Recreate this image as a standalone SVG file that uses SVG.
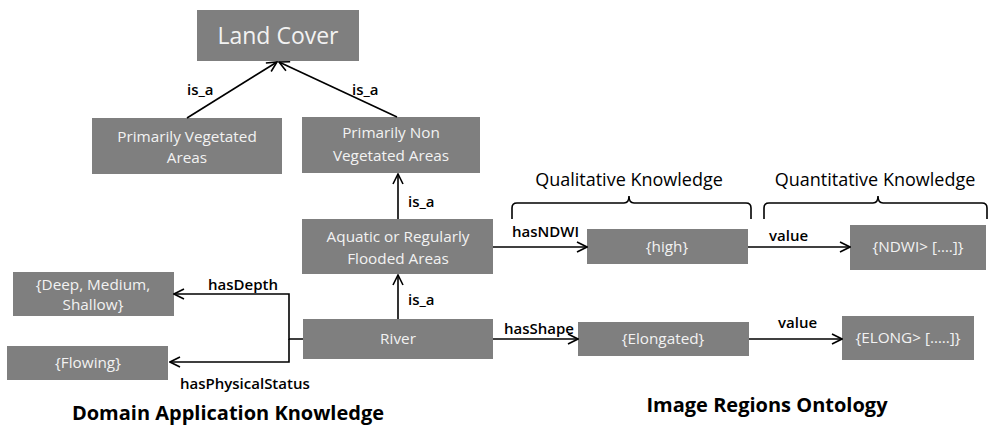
<svg xmlns="http://www.w3.org/2000/svg" width="989" height="426" viewBox="0 0 989 426">
<style>
.box{fill:#7f7f7f}
.bt{font-family:"Open Sans","Liberation Sans",sans-serif;font-size:15.3px;fill:#f2f2f2;text-anchor:middle}
.lb{font-family:"Open Sans","Liberation Sans",sans-serif;font-size:15px;font-weight:600;fill:#000}
.hd{font-family:"Open Sans","Liberation Sans",sans-serif;font-size:18px;fill:#000;text-anchor:middle}
.ti{font-family:"Open Sans","Liberation Sans",sans-serif;font-weight:bold;font-size:20px;fill:#000;text-anchor:middle}
.ln{fill:none;stroke:#000;stroke-width:1.6}
</style>
<defs>
<marker id="ah" viewBox="0 0 12 12" refX="11" refY="6" markerWidth="12" markerHeight="12" markerUnits="userSpaceOnUse" orient="auto">
<polyline points="1,1 11,6 1,11" fill="none" stroke="#000" stroke-width="1.6"/>
</marker>
</defs>
<g id="land-cover"><rect class="box" x="197" y="10" width="162" height="51"/><text class="bt" x="278" y="44" style="font-size:23px">Land Cover</text></g>
<g id="prim-veg"><rect class="box" x="92" y="118" width="190" height="56"/><text class="bt" x="187" y="142">Primarily Vegetated</text><text class="bt" x="187" y="163">Areas</text></g>
<g id="prim-nonveg"><rect class="box" x="302" y="117" width="178" height="56"/><text class="bt" x="391" y="138">Primarily Non</text><text class="bt" x="391" y="161">Vegetated Areas</text></g>
<g id="aquatic"><rect class="box" x="302" y="219" width="191" height="55"/><text class="bt" x="398" y="242">Aquatic or Regularly</text><text class="bt" x="398" y="264">Flooded Areas</text></g>
<g id="river"><rect class="box" x="303" y="319" width="190" height="40"/><text class="bt" x="398" y="344">River</text></g>
<g id="depth"><rect class="box" x="13" y="272" width="161" height="44"/><text class="bt" x="93" y="290">{Deep, Medium,</text><text class="bt" x="93" y="310">Shallow}</text></g>
<g id="flowing"><rect class="box" x="7" y="346" width="161" height="34"/><text class="bt" x="88" y="368">{Flowing}</text></g>
<g id="high"><rect class="box" x="587" y="229" width="161" height="35"/><text class="bt" x="667" y="252">{high}</text></g>
<g id="ndwi"><rect class="box" x="850" y="225" width="136" height="45"/><text class="bt" x="918" y="252">{NDWI&gt; [….]}</text></g>
<g id="elongated"><rect class="box" x="578" y="322" width="171" height="34"/><text class="bt" x="663" y="344">{Elongated}</text></g>
<g id="elong"><rect class="box" x="842" y="316" width="132" height="44"/><text class="bt" x="908" y="343">{ELONG&gt; […..]}</text></g>
<g id="connectors">
<line class="ln" x1="187" y1="118" x2="277" y2="62" marker-end="url(#ah)"/>
<line class="ln" x1="397" y1="117" x2="279" y2="62" marker-end="url(#ah)"/>
<line class="ln" x1="398" y1="219" x2="398" y2="174" marker-end="url(#ah)"/>
<line class="ln" x1="398" y1="319" x2="398" y2="275" marker-end="url(#ah)"/>
<polyline class="ln" points="303,339 289,339 289,294 174,294" marker-end="url(#ah)"/>
<polyline class="ln" points="289,339 289,362 170,362" marker-end="url(#ah)"/>
<line class="ln" x1="493" y1="247" x2="587" y2="247" marker-end="url(#ah)"/>
<line class="ln" x1="748" y1="247" x2="850" y2="247" marker-end="url(#ah)"/>
<line class="ln" x1="493" y1="339" x2="578" y2="339" marker-end="url(#ah)"/>
<line class="ln" x1="749" y1="339" x2="842" y2="339" marker-end="url(#ah)"/>
<path class="ln" d="M512,219 L512,208 Q512,203 517,203 L624,203 Q629,203 629,196 Q629,203 634,203 L746,203 Q751,203 751,208 L751,219"/>
<path class="ln" d="M764,219 L764,208 Q764,203 769,203 L873,203 Q878,203 878,196 Q878,203 883,203 L982,203 Q987,203 987,208 L987,219"/>
<text class="lb" x="187" y="95">is_a</text>
<text class="lb" x="352" y="95">is_a</text>
<text class="lb" x="408" y="207">is_a</text>
<text class="lb" x="408" y="305">is_a</text>
<text class="lb" x="208" y="290">hasDepth</text>
<text class="lb" x="180" y="389">hasPhysicalStatus</text>
<text class="lb" x="512" y="237">hasNDWI</text>
<text class="lb" x="769" y="241">value</text>
<text class="lb" x="504" y="334">hasShape</text>
<text class="lb" x="778" y="328">value</text>
</g>
<text class="hd" x="629" y="186">Qualitative Knowledge</text>
<text class="hd" x="875" y="186">Quantitative Knowledge</text>
<text class="ti" x="228" y="420">Domain Application Knowledge</text>
<text class="ti" x="767" y="412">Image Regions Ontology</text>
</svg>
